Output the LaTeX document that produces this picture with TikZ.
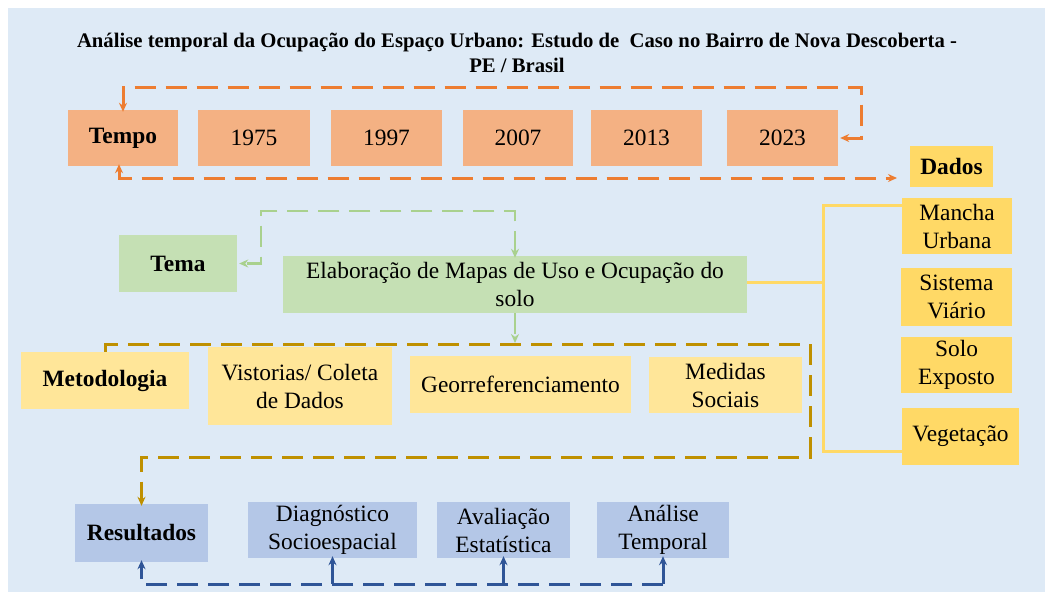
\documentclass[tikz,border=0pt]{standalone}
\usepackage{fontspec}
\setmainfont{Liberation Serif}
\usetikzlibrary{arrows.meta}
\definecolor{bgc}{HTML}{DEEAF6}
\definecolor{orf}{HTML}{F4B183}
\definecolor{orl}{HTML}{ED7D31}
\definecolor{ydk}{HTML}{FFD966}
\definecolor{ylt}{HTML}{FFE699}
\definecolor{grf}{HTML}{C5E0B4}
\definecolor{grl}{HTML}{A9D18E}
\definecolor{gdl}{HTML}{BF9000}
\definecolor{blf}{HTML}{B4C7E7}
\definecolor{bll}{HTML}{2F5597}
\tikzset{
  box/.style={rectangle, inner sep=0pt, align=center, text=black,
    font=\fontsize{23.4}{28}\selectfont},
  bbox/.style={box, font=\fontsize{23.4}{28}\selectfont\bfseries},
  tip/.style={-{Stealth[length=9pt,width=8pt]}},
  dtip/.style={{Stealth[length=9pt,width=8pt]}-{Stealth[length=9pt,width=8pt]}},
  dsh/.style={dash pattern=on 21pt off 10pt},
  oline/.style={draw=orl, line width=3pt, dsh},
  gline/.style={draw=grl, line width=2.5pt, dsh},
  gdline/.style={draw=gdl, line width=3pt, dsh},
  bline/.style={draw=bll, line width=3pt, dsh},
  yline/.style={draw=ydk, line width=3pt},
}
\begin{document}
\begin{tikzpicture}[x=1pt,y=-1pt]
\useasboundingbox (0,0) rectangle (1045,592);
\fill[bgc] (8,8) rectangle (1045,592);

\node[font=\fontsize{20.7}{25}\selectfont\bfseries, align=center] (title) at (517,53)
  {Análise temporal da Ocupação do Espaço Urbano: Estudo de\ \ Caso no Bairro de Nova Descoberta -\\PE / Brasil};

% Tempo row
\node[bbox, fill=orf, minimum width=110pt, minimum height=56pt] (tempo) at (123,138) {Tempo};
\node[box, fill=orf, minimum width=112pt, minimum height=56pt] (y1975) at (254,138) {1975};
\node[box, fill=orf, minimum width=111pt, minimum height=56pt] (y1997) at (386.5,138) {1997};
\node[box, fill=orf, minimum width=110pt, minimum height=56pt] (y2007) at (518,138) {2007};
\node[box, fill=orf, minimum width=111pt, minimum height=56pt] (y2013) at (646.5,138) {2013};
\node[box, fill=orf, minimum width=111pt, minimum height=56pt] (y2023) at (782.5,138) {2023};

% Dados column
\node[bbox, fill=ydk, minimum width=83pt, minimum height=41pt] (dados) at (951.5,166.5) {Dados};
\node[box, fill=ydk, minimum width=110pt, minimum height=56pt] (mancha) at (957,226) {Mancha\\Urbana};
\node[box, fill=ydk, minimum width=111pt, minimum height=58pt] (sistema) at (956.5,297) {Sistema\\Viário};
\node[box, fill=ydk, minimum width=111pt, minimum height=56pt] (solo) at (956.5,365) {Solo\\Exposto};
\node[box, fill=ydk, minimum width=117pt, minimum height=57pt] (veg) at (960.5,436.5) {Vegetação};

% Tema
\node[bbox, fill=grf, minimum width=118pt, minimum height=57pt] (tema) at (178,263.5) {Tema};
\node[box, fill=grf, minimum width=464pt, minimum height=57pt] (elab) at (515,284.5)
  {Elaboração de Mapas de Uso e Ocupação do\\solo};

% Metodologia
\node[bbox, fill=ylt, minimum width=168pt, minimum height=57pt] (metod) at (105,380.5) {Metodologia};
\node[box, fill=ylt, minimum width=184pt, minimum height=78pt] (vist) at (300,386) {Vistorias/ Coleta\\de Dados};
\node[box, fill=ylt, minimum width=221pt, minimum height=57pt] (geo) at (520.5,384.5) {Georreferenciamento};
\node[box, fill=ylt, minimum width=153pt, minimum height=56pt] (med) at (725.5,385) {Medidas\\Sociais};

% Resultados
\node[bbox, fill=blf, minimum width=133pt, minimum height=58pt] (res) at (141.5,533) {Resultados};
\node[box, fill=blf, minimum width=169pt, minimum height=56pt] (diag) at (332.5,530) {Diagnóstico\\Socioespacial};
\node[box, fill=blf, minimum width=133pt, minimum height=56pt] (aval) at (503.5,530) {Avaliação\\Estatística};
\node[box, fill=blf, minimum width=132pt, minimum height=56pt] (anal) at (663,530) {Análise\\Temporal};

% orange connectors
\coordinate (oTR) at (861,87);
\draw[oline, dtip] ([yshift=-2pt]tempo.north) |- (oTR) |- ([xshift=2pt]y2023.east);
\coordinate (oB) at (897,178);
\draw[oline, dtip] ([xshift=-4pt,yshift=2pt]tempo.south) |- (oB);

% green connectors
\coordinate (gTL) at (261,211);
\draw[gline, dtip] ([yshift=-2pt]elab.north) |- (gTL) |- ([xshift=2pt]tema.east);
\coordinate (gB) at (515,343);
\draw[gline, tip] (elab.south) -- (gB);

% yellow bus
\coordinate (ybT) at (823,205);
\coordinate (ybB) at (823,451);
\draw[yline] (mancha.west |- ybT) -- (ybT) -- (ybB) -- (veg.west |- ybB);
\draw[yline] ([yshift=2.5pt]elab.east) -- ([yshift=2.5pt]elab.east -| ybT);

% gold connector
\coordinate (gdTR) at (810,344);
\coordinate (gdBL) at (141.5,457);
\draw[gdline, tip] (metod.north) |- (gdTR) |- (gdBL) -- ([yshift=-2pt]res.north);

% blue connectors
\coordinate (bR) at (663,584);
\draw[bline, tip] (bR) -| ([yshift=2pt]res.south);
\draw[draw=bll, line width=3pt, tip] (diag.south |- bR) -- ([yshift=2pt]diag.south);
\draw[draw=bll, line width=3pt, tip] (aval.south |- bR) -- ([yshift=2pt]aval.south);
\draw[draw=bll, line width=3pt, tip] (bR) -- ([yshift=2pt]anal.south);
\end{tikzpicture}
\end{document}
